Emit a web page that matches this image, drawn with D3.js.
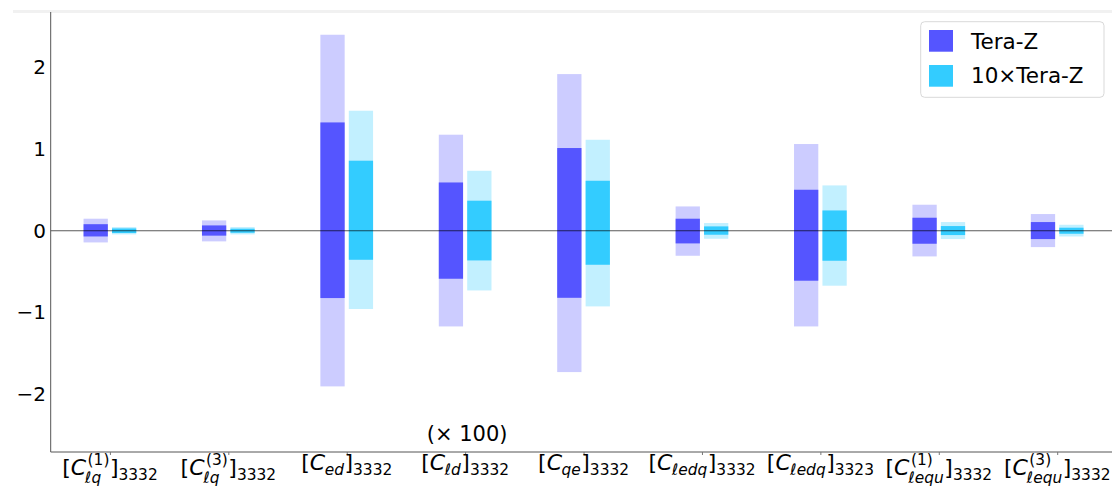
<!DOCTYPE html>
<html><head><meta charset="utf-8">
<script src="https://cdn.jsdelivr.net/npm/d3@7"></script>
<style>
html,body{margin:0;padding:0;background:#fff;}
svg{display:block;font-family:'DejaVu Sans',sans-serif;}
</style></head>
<body>
<svg id="chart" width="1112" height="488"></svg>
<script>
// ---- data ----
const catSub = ["ℓq","ℓq","ed","ℓd","qe","ℓedq","ℓedq","ℓequ","ℓequ"];
const catSup = ["(1)","(3)","","","","","","(1)","(3)"];
const catIdx = ["3332","3332","3332","3332","3332","3332","3323","3332","3332"];
const seriesNames = ["Tera-Z","10×Tera-Z"];
// Tera-Z inner (dark) interval
const teraZInnerLo = [-0.07,-0.06,-0.823,-0.587,-0.82,-0.155,-0.611,-0.159,-0.102];
const teraZInnerHi = [0.08,0.065,1.324,0.59,1.011,0.147,0.501,0.159,0.106];
// Tera-Z outer (light) interval
const teraZOuterLo = [-0.143,-0.13,-1.903,-1.17,-1.728,-0.306,-1.17,-0.314,-0.2];
const teraZOuterHi = [0.147,0.126,2.396,1.174,1.915,0.297,1.06,0.318,0.204];
// 10xTera-Z inner (dark) interval
const tera10InnerLo = [-0.028,-0.025,-0.355,-0.363,-0.416,-0.049,-0.367,-0.053,-0.037];
const tera10InnerHi = [0.028,0.025,0.856,0.367,0.611,0.053,0.248,0.057,0.037];
// 10xTera-Z outer (light) interval
const tera10OuterLo = [-0.045,-0.045,-0.957,-0.73,-0.925,-0.098,-0.672,-0.102,-0.07];
const tera10OuterHi = [0.045,0.045,1.467,0.733,1.112,0.094,0.554,0.106,0.073];
const yTicks = [-2,-1,0,1,2];
const scaleNote = "(× 100)";

(function(){
// ---- layout ----
const svg = d3.select("#chart");
const pLeft = 50.7, pRight = 1116.4, pTop = 12, pBottom = 452;
const x = d3.scaleLinear().domain([-0.5, catSub.length - 0.5]).range([pLeft, pRight]);
const y = d3.scaleLinear().domain([-2.705, 2.674]).range([pBottom, pTop]);
const unit = x(1) - x(0);
const barW = 0.205 * unit, off = 0.12 * unit;

const colBlue = "#5555ff", colBlueL = "#ccccff";
const colCyan = "#33ccff", colCyanL = "#c2f0ff";

// faint top strip
svg.append("rect").attr("x",13).attr("y",10).attr("width",1099).attr("height",3).attr("fill","#f1f1f1");

const series = [
  {name: seriesNames[0], lo: teraZInnerLo, hi: teraZInnerHi, olo: teraZOuterLo, ohi: teraZOuterHi, dx: -off, c: colBlue, cl: colBlueL},
  {name: seriesNames[1], lo: tera10InnerLo, hi: tera10InnerHi, olo: tera10OuterLo, ohi: tera10OuterHi, dx: off, c: colCyan, cl: colCyanL}
];

const idx = catSub.map((_, i) => i);
const gBars = svg.append("g");
series.forEach(s => {
  gBars.selectAll(null).data(idx).enter().append("rect")
    .attr("x", i => x(i) + s.dx - barW/2).attr("width", barW)
    .attr("y", i => y(s.ohi[i])).attr("height", i => y(s.olo[i]) - y(s.ohi[i]))
    .attr("fill", s.cl);
  gBars.selectAll(null).data(idx).enter().append("rect")
    .attr("x", i => x(i) + s.dx - barW/2).attr("width", barW)
    .attr("y", i => y(s.hi[i])).attr("height", i => y(s.lo[i]) - y(s.hi[i]))
    .attr("fill", s.c);
});

// zero line
svg.append("line").attr("x1", pLeft).attr("x2", 1112).attr("y1", y(0)).attr("y2", y(0))
  .attr("stroke", "#000").attr("stroke-opacity", 0.65).attr("stroke-width", 1.2);

// spines
svg.append("line").attr("x1", pLeft).attr("x2", pLeft).attr("y1", pTop).attr("y2", pBottom)
  .attr("stroke", "#555").attr("stroke-width", 1);
svg.append("line").attr("x1", pLeft).attr("x2", 1112).attr("y1", pBottom).attr("y2", pBottom)
  .attr("stroke", "#555").attr("stroke-width", 1);

// y axis labels
const yAxis = d3.axisLeft(y).tickValues(yTicks).tickSize(0).tickPadding(4.7).tickFormat(d3.format("d"));
const gy = svg.append("g").attr("transform", `translate(${pLeft},0)`).call(yAxis);
gy.select(".domain").remove();
gy.selectAll("text").attr("font-family", "'DejaVu Sans',sans-serif").attr("font-size", 20).attr("fill", "#000");

// x ticks
const gx = svg.append("g").attr("transform", `translate(0,${pBottom})`)
  .call(d3.axisBottom(x).tickValues(idx).tickSize(3).tickFormat(""));
gx.select(".domain").remove();
gx.selectAll("line").attr("stroke", "#777");

// x labels (math-like), one text element per label
const base = 22, small = 15.4;
catSub.forEach((sub, i) => {
  const hasSup = catSup[i] !== "";
  const by = pBottom + (hasSup ? 23 : 18);
  const t = svg.append("text").attr("x", 0).attr("y", by).attr("font-size", base).attr("fill", "#000");
  t.append("tspan").text("[");
  t.append("tspan").attr("font-style", "italic").text("C");
  let closeDx, closeDy;
  if (hasSup) {
    const s1 = t.append("tspan").attr("font-size", small).attr("dx", 1.5).attr("dy", -10.5).text(catSup[i]);
    const w1 = s1.node().getComputedTextLength();
    const s2 = t.append("tspan").attr("font-size", small).attr("font-style", "italic")
      .attr("dx", -(w1 + 1.5) - 1).attr("dy", 18).text(sub);
    const w2 = s2.node().getComputedTextLength();
    closeDx = Math.max(w1 + 1.5, w2 - 1) - (w2 - 1) + 0.5;
    closeDy = -7.5;
  } else {
    t.append("tspan").attr("font-size", small).attr("font-style", "italic")
      .attr("dx", -0.5).attr("dy", 5).text(sub);
    closeDx = 0.5; closeDy = -5;
  }
  t.append("tspan").attr("dx", closeDx).attr("dy", closeDy).text("]");
  t.append("tspan").attr("font-size", small).attr("dy", 5).text(catIdx[i]);
  const bb = t.node().getBBox();
  t.attr("x", x(i) - bb.width / 2 - bb.x);
});

// scale note
svg.append("text").attr("x", x(3) + 2).attr("y", 441).attr("text-anchor", "middle")
  .attr("font-size", 21).attr("fill", "#000").text(scaleNote);

// legend
const lg = svg.append("g");
lg.append("rect").attr("x", 920.7).attr("y", 21.7).attr("width", 183.3).attr("height", 75.6)
  .attr("rx", 4).attr("fill", "#fff").attr("fill-opacity", 0.8).attr("stroke", "#d9d9d9");
series.forEach((s, k) => {
  lg.append("rect").attr("x", 929).attr("y", 30 + k*35).attr("width", 24).attr("height", 21.7).attr("fill", s.c);
  lg.append("text").attr("x", 971).attr("y", 49.3 + k*34).attr("font-size", 21.5).attr("fill", "#000").text(s.name);
});
})();
</script>
</body></html>
